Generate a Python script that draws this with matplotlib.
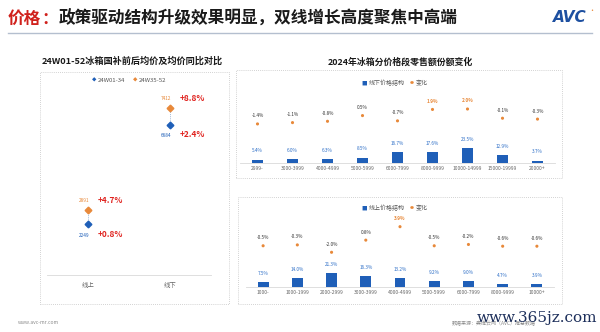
import matplotlib
matplotlib.use("Agg")
import matplotlib.pyplot as plt
from matplotlib.patches import Rectangle
from matplotlib.lines import Line2D

plt.rcParams["font.family"] = ["Noto Sans CJK SC", "DejaVu Sans"]

W, H = 600, 332

BLUE = "#1f5fb8"
ORANGE = "#e8893a"
RED = "#e0231f"
DARK = "#333333"
GRAY = "#8a8a8a"

# left panel: average price before / after subsidy
CHANNELS = ["线上", "线下"]
PRICE_EARLY = [2249, 6684]        # 24W01-34
PRICE_LATE = [2891, 7412]         # 24W35-52
YOY_EARLY = ["+0.8%", "+2.4%"]
YOY_LATE = ["+4.7%", "+8.8%"]

# right top: offline price-band share
OFF_BANDS = ["2999-", "3000-3999", "4000-4999", "5000-5999", "6000-7999",
             "8000-9999", "10000-14999", "15000-19999", "20000+"]
OFF_SHARE = [5.4, 6.0, 6.3, 8.5, 16.7, 17.6, 23.5, 12.9, 3.7]
OFF_CHANGE = [-1.4, -1.1, -0.8, 0.5, -0.7, 1.9, 2.0, -0.1, -0.3]

# right bottom: online price-band share
ON_BANDS = ["1000-", "1000-1999", "2000-2999", "3000-3999", "4000-4999",
            "5000-5999", "6000-7999", "8000-9999", "10000+"]
ON_SHARE = [7.5, 14.0, 21.3, 16.3, 13.2, 9.2, 9.0, 4.7, 3.9]
ON_CHANGE = [-0.5, -0.3, -2.0, 0.8, 3.9, -0.5, -0.2, -0.6, -0.6]


def px(l, t, r, b):
    return [l / W, 1 - b / H, (r - l) / W, (b - t) / H]


def ftext(x, y, s, **kw):
    fig.text(x / W, 1 - y / H, s, **kw)


def dotted_box(l, t, r, b):
    fig.patches.append(Rectangle((l / W, 1 - b / H), (r - l) / W, (b - t) / H,
                                 transform=fig.transFigure, fill=False,
                                 ls=(0, (1, 1.5)), lw=0.6, ec="#c4c4c4"))


def legend_row(y, items):
    # items: (x, glyph, size, colour, label)
    for x, glyph, size, col, label in items:
        ftext(x, y, glyph, fontsize=size, color=col, ha="right", va="center")
        ftext(x + 2, y, label, fontsize=4.3, color="#555555", ha="left", va="center")


def strip(ax):
    for side in ("top", "right", "left"):
        ax.spines[side].set_visible(False)
    ax.spines["bottom"].set_color("#d9d9d9")
    ax.spines["bottom"].set_linewidth(0.6)
    ax.set_yticks([])
    ax.tick_params(axis="x", length=0, labelsize=3.6, labelcolor="#666666", pad=2)
    ax.patch.set_alpha(0)


def band_chart(rect, bands, share, change, ylim_bar, ylim_chg):
    ax = fig.add_axes(rect)
    xs = range(len(bands))
    ax.bar(xs, share, width=0.32, color=BLUE)
    for x, v in zip(xs, share):
        ax.annotate(f"{v:.1f}%", (x, v), xytext=(0, 4.5), textcoords="offset points",
                    ha="center", va="bottom", fontsize=3.4, color="#2e6fc7")
    ax.set_ylim(*ylim_bar)
    ax.set_xlim(-0.5, len(bands) - 0.5)
    ax.set_xticks(list(xs))
    ax.set_xticklabels(bands)
    strip(ax)
    ax2 = ax.twinx()
    ax2.scatter(xs, change, s=5, color=ORANGE, edgecolors="none", zorder=3)
    for x, v in zip(xs, change):
        ax2.annotate(f"{v:.1f}%", (x, v), xytext=(0, 4), textcoords="offset points",
                     ha="center", va="bottom", fontsize=3.4,
                     color=ORANGE if v >= 1 else DARK,
                     fontweight="bold" if v >= 1 else "normal")
    ax2.set_ylim(*ylim_chg)
    ax2.axis("off")
    return ax


fig = plt.figure(figsize=(6.0, 3.32), dpi=100)
fig.patch.set_facecolor("white")

# header
ftext(8, 19, "价格", fontsize=12, color="#d0211c", fontweight="bold", va="center")
ftext(41, 19, "：", fontsize=12, color="#d0211c", fontweight="bold", va="center")
ftext(58.5, 19, "政策驱动结构升级效果明显，双线增长高度聚焦中高端", fontsize=12,
      color="#1a1a1a", fontweight="bold", va="center")
fig.add_artist(Line2D([8 / W, 592 / W], [1 - 33 / H] * 2, color="#b4bfcf", lw=1.0))
ftext(570, 18, "AVC", fontsize=11, color="#1d4fa0", fontweight="bold",
      fontstyle="italic", ha="center", va="center", family="DejaVu Sans")
ftext(592, 11, "•", fontsize=5, color=ORANGE, ha="center", va="center")

# left panel
ftext(132, 61, "24W01-52冰箱国补前后均价及均价同比对比", fontsize=6.6,
      fontweight="bold", color="#1a1a1a", ha="center", va="center")
dotted_box(40, 72, 229, 304)
legend_row(80, [(96, "◆", 3.2, BLUE, "24W01-34"),
                (137, "◆", 3.2, ORANGE, "24W35-52")])

axl = fig.add_axes(px(47, 95, 211, 275))
xs = [0, 1]
for x, a, b in zip(xs, PRICE_EARLY, PRICE_LATE):
    axl.plot([x, x], [a, b], ls=(0, (1, 1.5)), lw=0.6, color="#7a9cc8")
axl.plot(xs, PRICE_EARLY, ls="none", marker="D", ms=3.4, color=BLUE)
axl.plot(xs, PRICE_LATE, ls="none", marker="D", ms=3.4, color=ORANGE)
for x, a, b, ya, yb in zip(xs, PRICE_EARLY, PRICE_LATE, YOY_EARLY, YOY_LATE):
    axl.annotate(str(b), (x, b), xytext=(-3, 7), textcoords="offset points",
                 ha="center", va="center", fontsize=3.4, color=ORANGE)
    axl.annotate(str(a), (x, a), xytext=(-3, -8), textcoords="offset points",
                 ha="center", va="center", fontsize=3.4, color=BLUE)
    axl.annotate(yb, (x, b), xytext=(16, 7), textcoords="offset points",
                 ha="center", va="center", fontsize=6, color=RED, fontweight="bold")
    axl.annotate(ya, (x, a), xytext=(16, -7), textcoords="offset points",
                 ha="center", va="center", fontsize=6, color=RED, fontweight="bold")
axl.set_xlim(-0.5, 1.5)
axl.set_ylim(0, 8000)
axl.set_xticks(xs)
axl.set_xticklabels(CHANNELS)
strip(axl)
axl.tick_params(axis="x", labelsize=4.6, pad=4)

# right top
ftext(400, 62, "2024年冰箱分价格段零售额份额变化", fontsize=6.4,
      fontweight="bold", color="#1a1a1a", ha="center", va="center")
dotted_box(236, 70, 562, 178)
legend_row(83, [(367, "■", 4, BLUE, "线下价格结构"),
                (414, "●", 2.8, ORANGE, "变化")])
band_chart(px(240, 100, 555, 163), OFF_BANDS, OFF_SHARE, OFF_CHANGE,
           (0, 99), (-10.3, 4.05))

# right bottom
dotted_box(238, 197, 562, 304)
legend_row(208, [(367, "■", 4, BLUE, "线上价格结构"),
                 (414, "●", 2.8, ORANGE, "变化")])
band_chart(px(246, 220, 554, 287), ON_BANDS, ON_SHARE, ON_CHANGE,
           (0, 101.5), (-10.0, 5.44))

# footer
ftext(18, 323, "www.avc-mr.com", fontsize=3.6, color=GRAY, va="center")
ftext(452, 324, "数据来源：奥维云网（AVC）推总数据", fontsize=3.6, color=GRAY, va="center")
ftext(537, 318, "www.365jz.com", fontsize=11, color="#1c2e5a", ha="center",
      va="center", family="DejaVu Serif")

fig.savefig("out.png", dpi=100)
